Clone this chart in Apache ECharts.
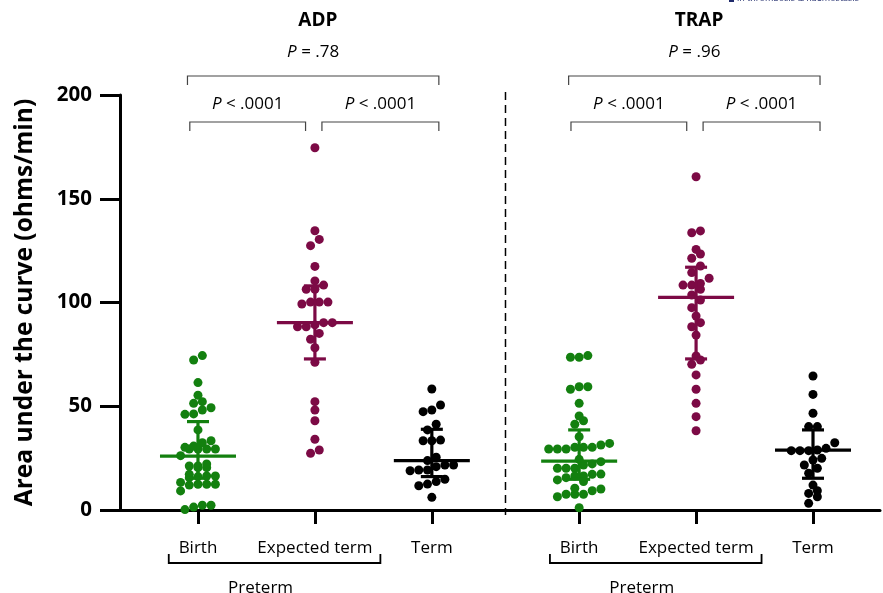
<!DOCTYPE html>
<html>
<head>
<meta charset="utf-8">
<title>Area under the curve</title>
<script src="https://cdn.jsdelivr.net/npm/echarts@6/dist/echarts.min.js"></script>
<style>
  html, body { margin: 0; padding: 0; background: #fff; }
  #chart { width: 883px; height: 593px; }
</style>
</head>
<body>
<div id="chart"></div>
<script>
// group labels under the x axis, panel titles
const groupNames = ["Birth", "Expected term", "Term", "Birth", "Expected term", "Term"];
const panelNames = ["ADP", "TRAP"];
const yTicks = [0, 50, 100, 150, 200];

// individual values (ohms/min)
const adpBirth = [74.4, 72.3, 61.4, 55.3, 52.2, 51.4, 49.3, 48.2, 46.3, 46.1, 38.6, 33.4, 32.4, 30.8, 30.2, 29.4, 29.4, 29.4, 29.4, 26.2,
  22.2, 21.2, 21.2, 20.4, 20.4, 17.2, 16.4, 16.4, 16.1, 15.6, 13.3, 12.4, 12.4, 12.4, 12.0, 9.2, 2.3, 2.3, 1.4, 0.2];
const adpExpected = [174.6, 134.6, 130.4, 127.4, 117.4, 110.4, 108.4, 106.4, 106.4, 100.2, 100.2, 100.2, 99.3, 90.3, 90.3, 89.2, 88.3, 88.3,
  85.1, 82.3, 78.2, 71.2, 52.2, 48.2, 43.0, 34.1, 28.9, 27.3];
const adpTerm = [58.3, 50.6, 48.2, 47.4, 41.3, 38.6, 33.7, 33.4, 33.4, 25.4, 23.8, 21.7, 21.7, 20.9, 19.3, 19.3, 18.9, 14.8, 13.7, 12.5, 11.7, 6.1];
const trapBirth = [74.4, 73.6, 73.6, 59.4, 59.4, 58.2, 51.4, 45.3, 43.0, 41.3, 35.3, 32.1, 31.3, 30.2, 30.2, 30.2, 29.4, 29.4, 29.4, 24.4,
  23.3, 22.2, 21.7, 20.1, 20.1, 20.1, 17.3, 17.2, 16.4, 16.4, 15.6, 14.5, 13.7, 10.5, 10.1, 9.3, 7.6, 7.6, 7.6, 6.4, 1.1];
const trapExpected = [160.6, 134.5, 133.6, 125.6, 123.4, 121.3, 117.6, 114.4, 111.7, 109.2, 108.4, 108.4, 106.4, 103.6, 101.2, 97.5, 93.5,
  90.3, 88.3, 84.3, 74.2, 72.3, 70.2, 65.1, 58.2, 51.4, 45.0, 38.2];
const trapTerm = [64.6, 55.7, 46.6, 40.2, 40.2, 32.4, 29.7, 28.9, 28.6, 28.6, 28.6, 24.9, 24.1, 21.7, 20.1, 17.7, 12.0, 9.3, 8.0, 6.4, 3.2];

// median and interquartile range per group (same order as groupNames)
const medians = [26.0, 90.3, 23.8, 23.6, 102.5, 28.9];
const q1 = [15.3, 72.8, 16.1, 14.8, 72.8, 15.3];
const q3 = [42.6, 108.0, 38.9, 38.6, 117.0, 38.6];

// p-values: overall per panel, then pairwise
const pOverall = ["= .78", "= .96"];
const pPairs = ["< .0001", "< .0001", "< .0001", "< .0001"];

// ---- layout ----
const X_MIN = 0.333, X_MAX = 6.833;
const xPos = [1, 2, 3, 4.26, 5.26, 6.26];
const dividerX = 3.63;
const GRID = { left: 120, right: 3, top: 95, bottom: 83 };
const PX_X = (883 - GRID.left - GRID.right) / (X_MAX - X_MIN);
const PX_Y = (593 - GRID.top - GRID.bottom) / 200;
const STEP = 8.7;   // horizontal spacing of neighbours, px
const ROW = 8.0;    // height of one swarm row, px
const colors = ["#13800f", "#7c0a45", "#000000"];

// rows of points side by side, centred on the group, like a prism scatter
function swarm(values, center) {
  const sorted = values.slice().sort((a, b) => a - b);
  const rows = [];
  let cur = null;
  sorted.forEach(v => {
    const y = v * PX_Y;
    if (!cur || y - cur.start >= ROW) {
      cur = { start: y, vals: [] };
      rows.push(cur);
    }
    cur.vals.push(v);
  });
  const out = [];
  rows.forEach(r => {
    const n = r.vals.length;
    r.vals.forEach((v, i) => {
      out.push([center + ((i - (n - 1) / 2) * STEP) / PX_X, v]);
    });
  });
  return out;
}

const groups = [adpBirth, adpExpected, adpTerm, trapBirth, trapExpected, trapTerm];
const swarms = groups.map((g, i) => swarm(g, xPos[i]));

// annotations: brackets with p-values, panel titles, divider, "Preterm" brackets
const annotations = [];
panelNames.forEach((name, p) => {
  const a = p * 3;
  annotations.push({ kind: "title", x: xPos[a + 1], text: name });
  annotations.push({ kind: "bracket", x1: xPos[a] - 0.09, x2: xPos[a + 2] + 0.06, row: 0, text: pOverall[p] });
  annotations.push({ kind: "bracket", x1: xPos[a] - 0.07, x2: xPos[a + 1] - 0.08, row: 1, text: pPairs[p * 2] });
  annotations.push({ kind: "bracket", x1: xPos[a + 1] + 0.06, x2: xPos[a + 2] + 0.06, row: 1, text: pPairs[p * 2 + 1] });
  annotations.push({ kind: "preterm", x1: xPos[a] - 0.25, x2: xPos[a + 1] + 0.56, text: "Preterm" });
});
annotations.push({ kind: "divider", x: dividerX });

const FONT = "'Open Sans', sans-serif";

function renderAnnotation(params, api) {
  const a = annotations[params.dataIndex];
  const top = api.coord([X_MIN, 200])[1];
  const bottom = api.coord([X_MIN, 0])[1];
  if (a.kind === "title") {
    const x = api.coord([a.x, 0])[0];
    return { type: "text", style: { text: a.text, x: x + 3, y: top - 74, align: "center", verticalAlign: "middle",
      font: "bold 19px " + FONT, fill: "#000" } };
  }
  if (a.kind === "bracket") {
    const x1 = api.coord([a.x1, 0])[0], x2 = api.coord([a.x2, 0])[0];
    const y = top + (a.row === 0 ? -19 : 27);
    const ty = top + (a.row === 0 ? -43 : 9);
    return { type: "group", children: [
      { type: "polyline", shape: { points: [[x1, y + 9], [x1, y], [x2, y], [x2, y + 9]] },
        style: { stroke: "#444", lineWidth: 1.2, fill: null } },
      { type: "text", style: { text: "{i|P} " + a.text, x: (x1 + x2) / 2, y: ty, align: "center", verticalAlign: "middle",
        font: "17px " + FONT, fill: "#000",
        rich: { i: { fontStyle: "italic", fontSize: 17, fontFamily: FONT, fill: "#000" } } } }
    ] };
  }
  if (a.kind === "preterm") {
    const x1 = api.coord([a.x1, 0])[0], x2 = api.coord([a.x2, 0])[0];
    return { type: "group", children: [
      { type: "polyline", shape: { points: [[x1, bottom + 44], [x1, bottom + 53], [x2, bottom + 53], [x2, bottom + 44]] },
        style: { stroke: "#000", lineWidth: 1.8, fill: null } },
      { type: "text", style: { text: a.text, x: (x1 + x2) / 2 - 14, y: bottom + 78, align: "center", verticalAlign: "middle",
        font: "17px " + FONT, fill: "#000" } }
    ] };
  }
  const x = api.coord([a.x, 0])[0];
  return { type: "line", shape: { x1: x, y1: top - 3, x2: x, y2: bottom + 5 },
    style: { stroke: "#000", lineWidth: 1.5, lineDash: [8, 5] } };
}

function renderErrorBar(params, api) {
  const x = api.value(0);
  const c = api.coord([x, api.value(1)]);
  const lo = api.coord([x, api.value(2)]);
  const hi = api.coord([x, api.value(3)]);
  const style = { stroke: colors[params.dataIndex % 3], lineWidth: 3.2 };
  return { type: "group", children: [
    { type: "line", shape: { x1: c[0] - 38, y1: c[1], x2: c[0] + 38, y2: c[1] }, style },
    { type: "line", shape: { x1: lo[0], y1: lo[1], x2: hi[0], y2: hi[1] }, style },
    { type: "line", shape: { x1: lo[0] - 11, y1: lo[1], x2: lo[0] + 11, y2: lo[1] }, style },
    { type: "line", shape: { x1: hi[0] - 11, y1: hi[1], x2: hi[0] + 11, y2: hi[1] }, style }
  ] };
}

const chart = echarts.init(document.getElementById("chart"));
chart.setOption({
  animation: false,
  backgroundColor: "#fff",
  grid: GRID,
  xAxis: {
    type: "value",
    min: X_MIN,
    max: X_MAX,
    splitLine: { show: false },
    axisLine: { show: true, lineStyle: { color: "#000", width: 3 } },
    axisTick: { show: true, customValues: xPos, length: 14, lineStyle: { color: "#000", width: 3 } },
    axisLabel: {
      customValues: xPos,
      margin: 30,
      color: "#000",
      fontSize: 17,
      fontFamily: FONT,
      formatter: v => {
        const i = xPos.findIndex(p => Math.abs(p - v) < 1e-6);
        return i >= 0 ? groupNames[i] : "";
      }
    }
  },
  yAxis: {
    type: "value",
    min: 0,
    max: 200,
    interval: 50,
    name: "Area under the curve (ohms/min)",
    nameLocation: "middle",
    nameGap: 82,
    nameTextStyle: { color: "#000", fontSize: 24.5, fontWeight: "bold", fontFamily: FONT },
    splitLine: { show: false },
    axisLine: { show: true, lineStyle: { color: "#000", width: 3 } },
    axisTick: { show: true, length: 20, lineStyle: { color: "#000", width: 3 } },
    axisLabel: {
      color: "#000", fontSize: 20.5, fontWeight: "bold", fontFamily: FONT, margin: 28,
      formatter: v => (yTicks.includes(v) ? String(v) : "")
    }
  },
  graphic: [
    { type: "rect", left: 729, top: -3, shape: { width: 5, height: 5 }, style: { fill: "#1f2a6b" } },
    { type: "text", left: 737, top: -6, style: { text: "in thrombosis & haemostasis", font: "9px " + FONT, fill: "#1f2a6b" } }
  ],
  series: [
    { type: "scatter", name: "Birth", symbolSize: 9, itemStyle: { color: colors[0], opacity: 1 },
      data: swarms[0].concat(swarms[3]) },
    { type: "scatter", name: "Expected term", symbolSize: 9, itemStyle: { color: colors[1], opacity: 1 },
      data: swarms[1].concat(swarms[4]) },
    { type: "scatter", name: "Term", symbolSize: 9, itemStyle: { color: colors[2], opacity: 1 },
      data: swarms[2].concat(swarms[5]) },
    { type: "custom", name: "median IQR", renderItem: renderErrorBar, z: 5, silent: true,
      encode: { x: 0, y: 1 },
      data: xPos.map((x, i) => [x, medians[i], q1[i], q3[i]]) },
    { type: "custom", name: "annotations", renderItem: renderAnnotation, clip: false, silent: true,
      encode: { x: 0, y: 1 },
      data: annotations.map(() => [X_MIN, 0]) }
  ]
});
</script>
</body>
</html>
